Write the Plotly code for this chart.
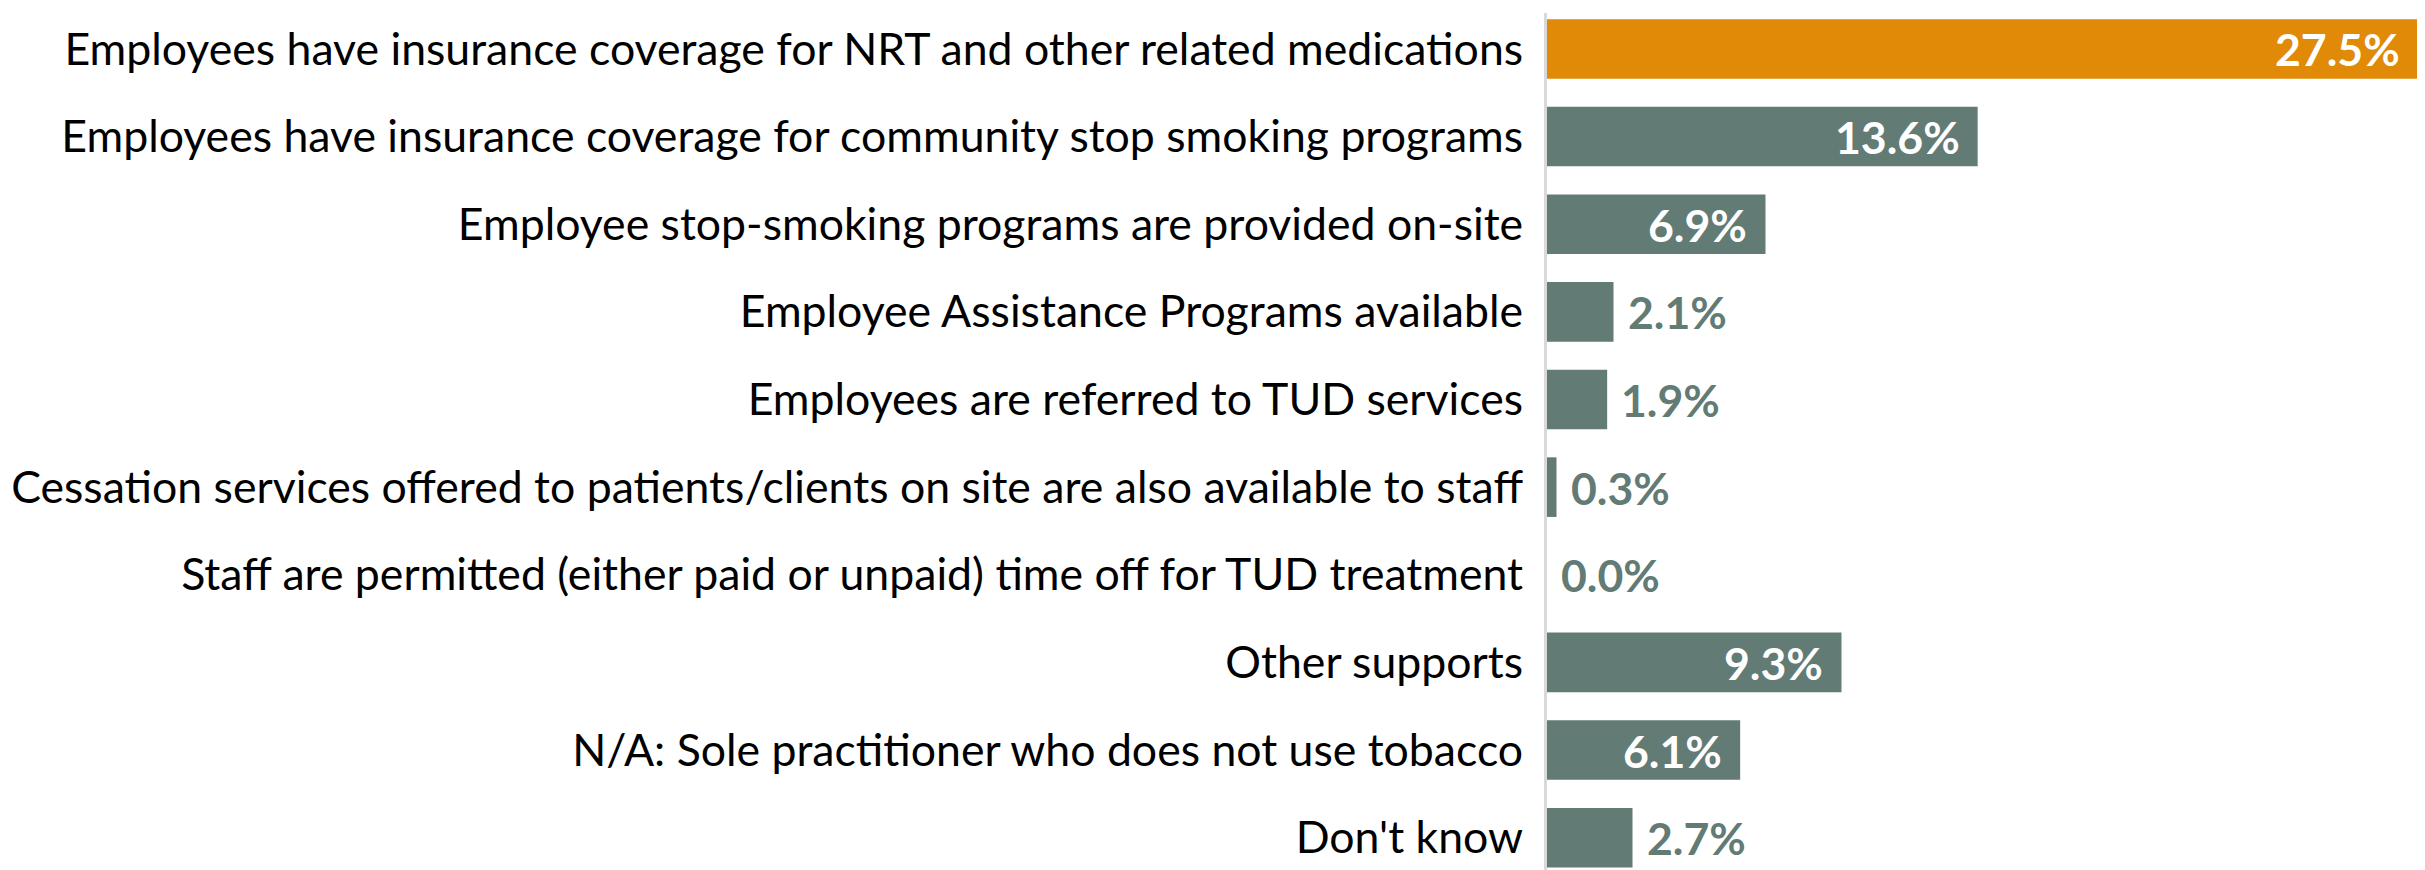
import plotly.graph_objects as go

categories = [
    "Employees have insurance coverage for NRT and other related medications",
    "Employees have insurance coverage for community stop smoking programs",
    "Employee stop-smoking programs are provided on-site",
    "Employee Assistance Programs available",
    "Employees are referred to TUD services",
    "Cessation services offered to patients/clients on site are also available to staff",
    "Staff are permitted (either paid or unpaid) time off for TUD treatment",
    "Other supports",
    "N/A: Sole practitioner who does not use tobacco",
    "Don't know",
]
values = [27.5, 13.6, 6.9, 2.1, 1.9, 0.3, 0.0, 9.3, 6.1, 2.7]
labels = [f"{v:.1f}%" for v in values]
label_inside = [True, True, True, False, False, False, False, True, True, False]

ORANGE = "#E08A07"
GREEN = "#627B75"
colors = [ORANGE] + [GREEN] * (len(values) - 1)

FONT = "Lato"
TSIZE = 44.6

fig = go.Figure(go.Bar(
    y=categories,
    x=values,
    orientation="h",
    marker=dict(color=colors, line=dict(width=0)),
    hoverinfo="x+y",
))

annotations = []
for cat, v, lab, inside in zip(categories, values, labels, label_inside):
    annotations.append(dict(
        x=v, y=cat, xref="x", yref="y",
        text=f"<b>{lab}</b>", showarrow=False,
        xanchor="right" if inside else "left",
        xshift=-16 if inside else 12,
        font=dict(family=FONT, size=TSIZE, color="white" if inside else GREEN),
    ))

fig.update_layout(
    width=2425, height=870,
    margin=dict(l=0, r=0, t=5, b=0),
    paper_bgcolor="white", plot_bgcolor="white",
    bargap=0.32,
    showlegend=False,
    annotations=annotations,
    xaxis=dict(range=[0, 27.98], visible=False, fixedrange=True,
               domain=[1539 / 2425, 1.0]),
    yaxis=dict(
        categoryorder="array", categoryarray=categories,
        range=[9.46, -0.41],
        showline=True, linecolor="#D9D9D9", linewidth=3,
        showgrid=False, zeroline=False,
        ticks="", ticklabelstandoff=12,
        tickfont=dict(family=FONT, size=TSIZE, color="black"),
        automargin=False,
    ),
)

fig.write_html("out.html")
